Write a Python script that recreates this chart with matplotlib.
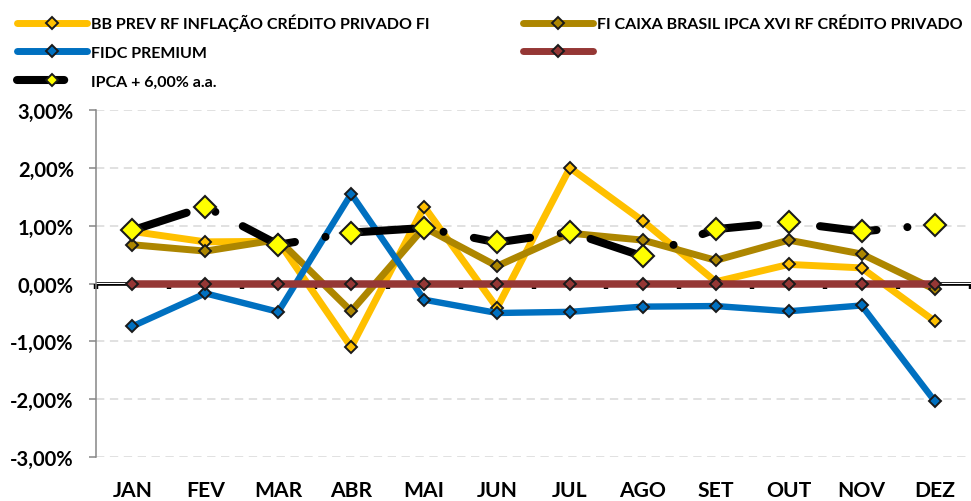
import matplotlib
matplotlib.use("Agg")
import matplotlib.pyplot as plt
from matplotlib.lines import Line2D
import numpy as np

months = ['JAN', 'FEV', 'MAR', 'ABR', 'MAI', 'JUN', 'JUL', 'AGO', 'SET', 'OUT', 'NOV', 'DEZ']
bb_prev = [0.90, 0.72, 0.73, -1.10, 1.33, -0.42, 2.00, 1.08, 0.03, 0.33, 0.27, -0.65]
caixa = [0.67, 0.56, 0.76, -0.48, 0.97, 0.30, 0.87, 0.75, 0.40, 0.75, 0.51, -0.10]
fidc = [-0.74, -0.17, -0.49, 1.55, -0.28, -0.51, -0.49, -0.40, -0.39, -0.48, -0.38, -2.03]
zero_series = [0.0] * 12
ipca = [0.92, 1.33, 0.67, 0.88, 0.96, 0.71, 0.89, 0.47, 0.94, 1.06, 0.90, 1.02]
yticks = [-3, -2, -1, 0, 1, 2, 3]
ytick_labels = ['-3,00%', '-2,00%', '-1,00%', '0,00%', '1,00%', '2,00%', '3,00%']
labels = ['BB PREV RF INFLAÇÃO CRÉDITO PRIVADO FI',
          'FI CAIXA BRASIL IPCA XVI RF CRÉDITO PRIVADO',
          'FIDC PREMIUM',
          '',
          'IPCA + 6,00% a.a.']

plt.rcParams['font.family'] = ['Lato', 'DejaVu Sans']
plt.rcParams['font.weight'] = 'bold'
plt.rcParams['lines.scale_dashes'] = False

fig = plt.figure(figsize=(9.71, 5.02), dpi=100)
ax = fig.add_axes([96/971, 1-458/502, 875/971, 347/502])

x = np.arange(len(months))
edge = '#1a1a1a'
c_bb, c_cx, c_fi, c_rd = '#FFC000', '#AD8600', '#0070C0', '#953735'
ms_small = 6.4
lw = 5.0
ipca_dash = (41, 22.3, 0.01, 22.3)

ax.plot(x, bb_prev, color=c_bb, lw=lw, marker='D', ms=ms_small, mfc=c_bb,
        mec=edge, mew=1.4, solid_capstyle='round', zorder=3)
ax.plot(x, caixa, color=c_cx, lw=lw, marker='D', ms=ms_small, mfc=c_cx,
        mec=edge, mew=1.4, solid_capstyle='round', zorder=3)
ax.plot(x, fidc, color=c_fi, lw=4.6, marker='D', ms=ms_small, mfc=c_fi,
        mec=edge, mew=1.4, solid_capstyle='round', zorder=3)
ax.plot(x, zero_series, color=c_rd, lw=5.4, marker='D', ms=ms_small, mfc=c_rd,
        mec=edge, mew=1.4, solid_capstyle='butt', zorder=3)
ax.plot(x, ipca, color='black', lw=5.8, dashes=ipca_dash,
        dash_capstyle='round', zorder=4)
ax.plot(x, ipca, ls='none', marker='D', ms=11.3, mfc='#FFFF00', mec=edge, mew=1.5, zorder=5)

ax.set_xlim(-0.5, len(months) - 0.5)
ax.set_ylim(-3, 3)
ax.set_yticks(yticks, ytick_labels)
ax.set_xticks(x, months)
ax.tick_params(axis='x', length=0, pad=16.5, labelsize=15.2)
ax.tick_params(axis='y', length=5, width=1.1, color='#868686', pad=11, labelsize=14.5)
for s in ['top', 'right', 'bottom']:
    ax.spines[s].set_visible(False)
ax.spines['left'].set_color('#868686')
ax.spines['left'].set_linewidth(1.1)
ax.yaxis.grid(True, color='#D9D9D9', lw=1.1, dashes=(6, 4))
ax.set_axisbelow(True)

# horizontal category axis crossing at zero
ax.axhline(0, color='black', lw=2.6, zorder=1.5)
sec = ax.secondary_xaxis(0.5)
sec.set_zorder(1.6)
sec.set_alignment('bottom')
sec.set_xticks(np.arange(-0.5, len(months), 1.0))
sec.tick_params(axis='x', length=3.8, width=3.2, direction='out', labelbottom=False,
                labeltop=False, color='black', bottom=True, top=False)
for s in sec.spines.values():
    s.set_visible(False)

def proxy(color, mfc, lwid, dashes=None):
    kw = dict(color=color, lw=lwid, marker='D', ms=ms_small, mfc=mfc, mec=edge, mew=1.4,
              solid_capstyle='round')
    if dashes:
        kw.update(dashes=dashes, dash_capstyle='round')
    return Line2D([], [], **kw)

h_bb = proxy(c_bb, c_bb, lw)
h_cx = proxy(c_cx, c_cx, lw)
h_fi = proxy(c_fi, c_fi, lw)
h_rd = proxy(c_rd, c_rd, lw)
h_ip = proxy('black', '#FFFF00', 5.8, dashes=(34, 80))

handles = [h_bb, h_fi, h_ip, h_cx, h_rd]
labs = [labels[0], labels[2], labels[4], labels[1], labels[3]]
fig.legend(handles, labs, loc='upper left', bbox_to_anchor=(0.006, 0.993), ncol=2,
           frameon=False, fontsize=11.5, handlelength=4.4, handletextpad=0.25,
           columnspacing=5.85, labelspacing=0.9, borderaxespad=0.3)

fig.savefig('out.png', dpi=100)
